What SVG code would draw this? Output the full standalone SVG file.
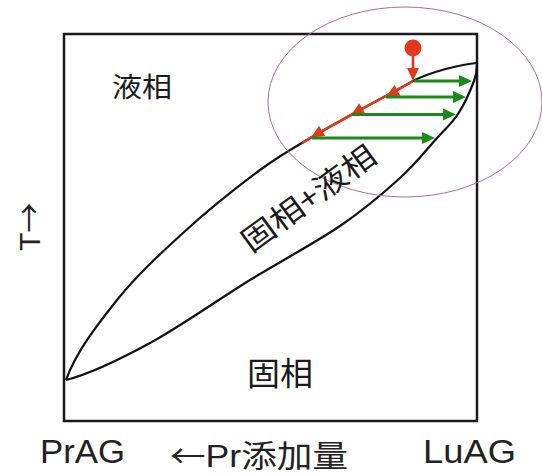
<svg xmlns="http://www.w3.org/2000/svg" width="542" height="475" viewBox="0 0 542 475">
  <style>
    .box{fill:none;stroke:#1a1a1a;stroke-width:2.5}
    .curve{fill:none;stroke:#111;stroke-width:2.2}
    .ell{fill:none;stroke:#a86aa8;stroke-width:1}
    .red{fill:none;stroke:#e0391b;stroke-width:2.6}
    .redf{fill:#e0391b}
    .grn{fill:none;stroke:#1b8a1b;stroke-width:3}
    .grnf{fill:#1b8a1b}
    .cjk{font-family:"Noto Sans CJK JP","Noto Sans CJK SC",sans-serif;fill:#1a1a1a}
    .lat{font-family:"Liberation Sans","Noto Sans CJK JP",sans-serif;fill:#222}
    .arr{font-family:"Noto Sans CJK JP","Noto Sans CJK SC",sans-serif}
  </style>
  <defs>
    <path id="ah" d="M0,0 L-13,-6 L-13,6 Z"/>
  </defs>
  <rect width="542" height="475" fill="#fff"/>

  <g id="frame">
    <rect class="box" x="64" y="34" width="413" height="387"/>
  </g>

  <g id="liquidus">
    <path class="curve" d="M66,380 C76,352 97.5,324.5 117,300 C136.5,275.5 159.2,254.7 183,233 C206.8,211.3 238.5,186 260,170 C281.5,154 295.3,147 312,137 C328.7,127 344,119 360,110 C376,101 396,91 413,81 C430,72 462,64 477,63"/>
  </g>
  <g id="solidus">
    <path class="curve" d="M66,380 C90,374 119.3,359.7 150,343 C180.7,326.3 218.3,299.5 250,280 C281.7,260.5 315,243 340,226 C365,209 383.8,192.7 400,178 C416.2,163.3 427.3,148.7 437,138 C446.7,127.3 451.8,123.5 458,114 C464.2,104.5 470.8,89.5 474,81 C477.2,72.5 477,68 477,63"/>
  </g>

  <g id="highlight">
    <ellipse class="ell" cx="405" cy="102" rx="137" ry="95"/>
  </g>

  <g id="connectors">
    <circle class="redf" cx="413" cy="48" r="8.5"/>
    <line class="red" x1="413" y1="55" x2="413" y2="70"/>
    <use href="#ah" class="redf" transform="translate(413,81) rotate(90)"/>
    <path class="red" d="M413,81 C396,91 376,101 360,110 C344,119 328.7,127 312,137 L302,143"/>
    <use href="#ah" class="redf" transform="translate(386,96.5) rotate(152)"/>
    <use href="#ah" class="redf" transform="translate(351,115) rotate(150)"/>
    <use href="#ah" class="redf" transform="translate(311,137.5) rotate(149)"/>
    <line class="grn" x1="414" y1="81" x2="462" y2="81"/>
    <use href="#ah" class="grnf" transform="translate(472,81)"/>
    <line class="grn" x1="386" y1="97" x2="456" y2="97"/>
    <use href="#ah" class="grnf" transform="translate(466,97)"/>
    <line class="grn" x1="352" y1="114.5" x2="446" y2="114.5"/>
    <use href="#ah" class="grnf" transform="translate(456,114.5)"/>
    <line class="grn" x1="312" y1="138" x2="425" y2="138"/>
    <use href="#ah" class="grnf" transform="translate(435,138)"/>
  </g>

  <g id="label-liquid">
    <text class="cjk" x="112" y="97" font-size="27" textLength="60" lengthAdjust="spacingAndGlyphs">液相</text>
  </g>
  <g id="label-mixed">
    <text class="cjk" transform="translate(315,207) rotate(-36)" x="0" y="0" font-size="30" text-anchor="middle" textLength="158" lengthAdjust="spacingAndGlyphs">固相+液相</text>
  </g>
  <g id="label-solid">
    <text class="cjk" x="247" y="385" font-size="32" textLength="66" lengthAdjust="spacingAndGlyphs">固相</text>
  </g>
  <g id="axis-labels">
    <text class="lat" transform="translate(40,251) rotate(-90)" font-size="30">T<tspan class="arr">→</tspan></text>
    <text class="lat" x="40" y="463" font-size="33" textLength="85" lengthAdjust="spacingAndGlyphs">PrAG</text>
    <text class="lat" x="170" y="467" font-size="31" textLength="178" lengthAdjust="spacingAndGlyphs"><tspan class="arr">←</tspan>Pr添加量</text>
    <text class="lat" x="423" y="463" font-size="33" textLength="93" lengthAdjust="spacingAndGlyphs">LuAG</text>
  </g>
</svg>
